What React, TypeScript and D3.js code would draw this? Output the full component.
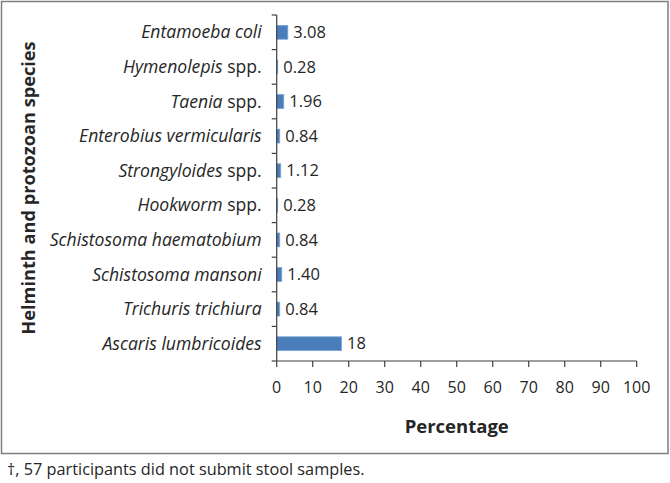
import React, { useEffect } from "react";
import * as d3 from "d3";

const genus = ["Entamoeba coli", "Hymenolepis", "Taenia", "Enterobius vermicularis", "Strongyloides", "Hookworm", "Schistosoma haematobium", "Schistosoma mansoni", "Trichuris trichiura", "Ascaris lumbricoides"];
const suffix = ["", " spp.", " spp.", "", " spp.", " spp.", "", "", "", ""];
const values = [3.08, 0.28, 1.96, 0.84, 1.12, 0.28, 0.84, 1.4, 0.84, 18];
const valueLabels = ["3.08", "0.28", "1.96", "0.84", "1.12", "0.28", "0.84", "1.40", "0.84", "18"];
const xTicks = [0, 10, 20, 30, 40, 50, 60, 70, 80, 90, 100];

const FONT = "'Open Sans', sans-serif";
const TEXT = "#262626";
const AXIS = "#404040";

export default function App() {
  useEffect(() => {
    document.body.style.margin = "0";
  }, []);
  const W = 670, H = 483;
  const x0 = 276.7, x1 = 636.7, yTop = 15, yBot = 361;
  const x = d3.scaleLinear().domain([0, 100]).range([x0, x1]);
  const idx = genus.map((_, i) => String(i));
  const y = d3.scaleBand().domain(idx).range([yTop, yBot]).paddingInner(0.6).paddingOuter(0.3);
  const yb = d3.scaleBand().domain(idx).range([yTop, yBot]);
  return (
    <svg width={W} height={H} style={{ display: "block" }} fontFamily={FONT}>
      <rect x={1.5} y={1.5} width={666.5} height={452} fill="white" stroke="#7f7f7f" strokeWidth={1.5} />
      {values.map((v, i) => (
        <g key={i}>
          <rect x={x(0)} y={y(String(i))} width={x(v) - x(0)} height={y.bandwidth()} fill="#4a7ebb" stroke="#7ba3d6" strokeWidth={0.8} />
          <text x={x(v) + 5.5} y={(yb(String(i)) as number) + yb.bandwidth() / 2} dy="0.35em" fontSize={16.5} fill={TEXT}>{valueLabels[i]}</text>
          <text x={x0 - 15} y={(yb(String(i)) as number) + yb.bandwidth() / 2} dy="0.35em" fontSize={17.6} fill={TEXT} textAnchor="end">
            <tspan fontStyle="italic">{genus[i]}</tspan>
            {suffix[i] && <tspan>{suffix[i]}</tspan>}
          </text>
        </g>
      ))}
      <line x1={x0} x2={x0} y1={yTop} y2={yBot} stroke={AXIS} strokeWidth={1.2} />
      {d3.range(values.length + 1).map((k) => {
        const yy = yTop + k * yb.step();
        return <line key={k} x1={x0 - 5} x2={x0} y1={yy} y2={yy} stroke={AXIS} strokeWidth={1.2} />;
      })}
      <line x1={x0} x2={x1} y1={yBot} y2={yBot} stroke={AXIS} strokeWidth={1.2} />
      {xTicks.map((t) => (
        <g key={t}>
          <line x1={x(t)} x2={x(t)} y1={yBot} y2={yBot + 6} stroke={AXIS} strokeWidth={1.2} />
          <text x={x(t)} y={yBot + 26} dy="0.35em" textAnchor="middle" fontSize={16} fill={TEXT}>{t}</text>
        </g>
      ))}
      <text x={(x0 + x1) / 2} y={433} textAnchor="middle" fontSize={18.5} fontWeight="bold" fill={TEXT}>Percentage</text>
      <text transform={`translate(35,${(yTop + yBot) / 2}) rotate(-90)`} textAnchor="middle" fontSize={18.2} fontWeight="bold" fill={TEXT}>Helminth and protozoan species</text>
      <text x={7} y={475} fontSize={16.3} fill={TEXT}>†, 57 participants did not submit stool samples.</text>
    </svg>
  );
}
